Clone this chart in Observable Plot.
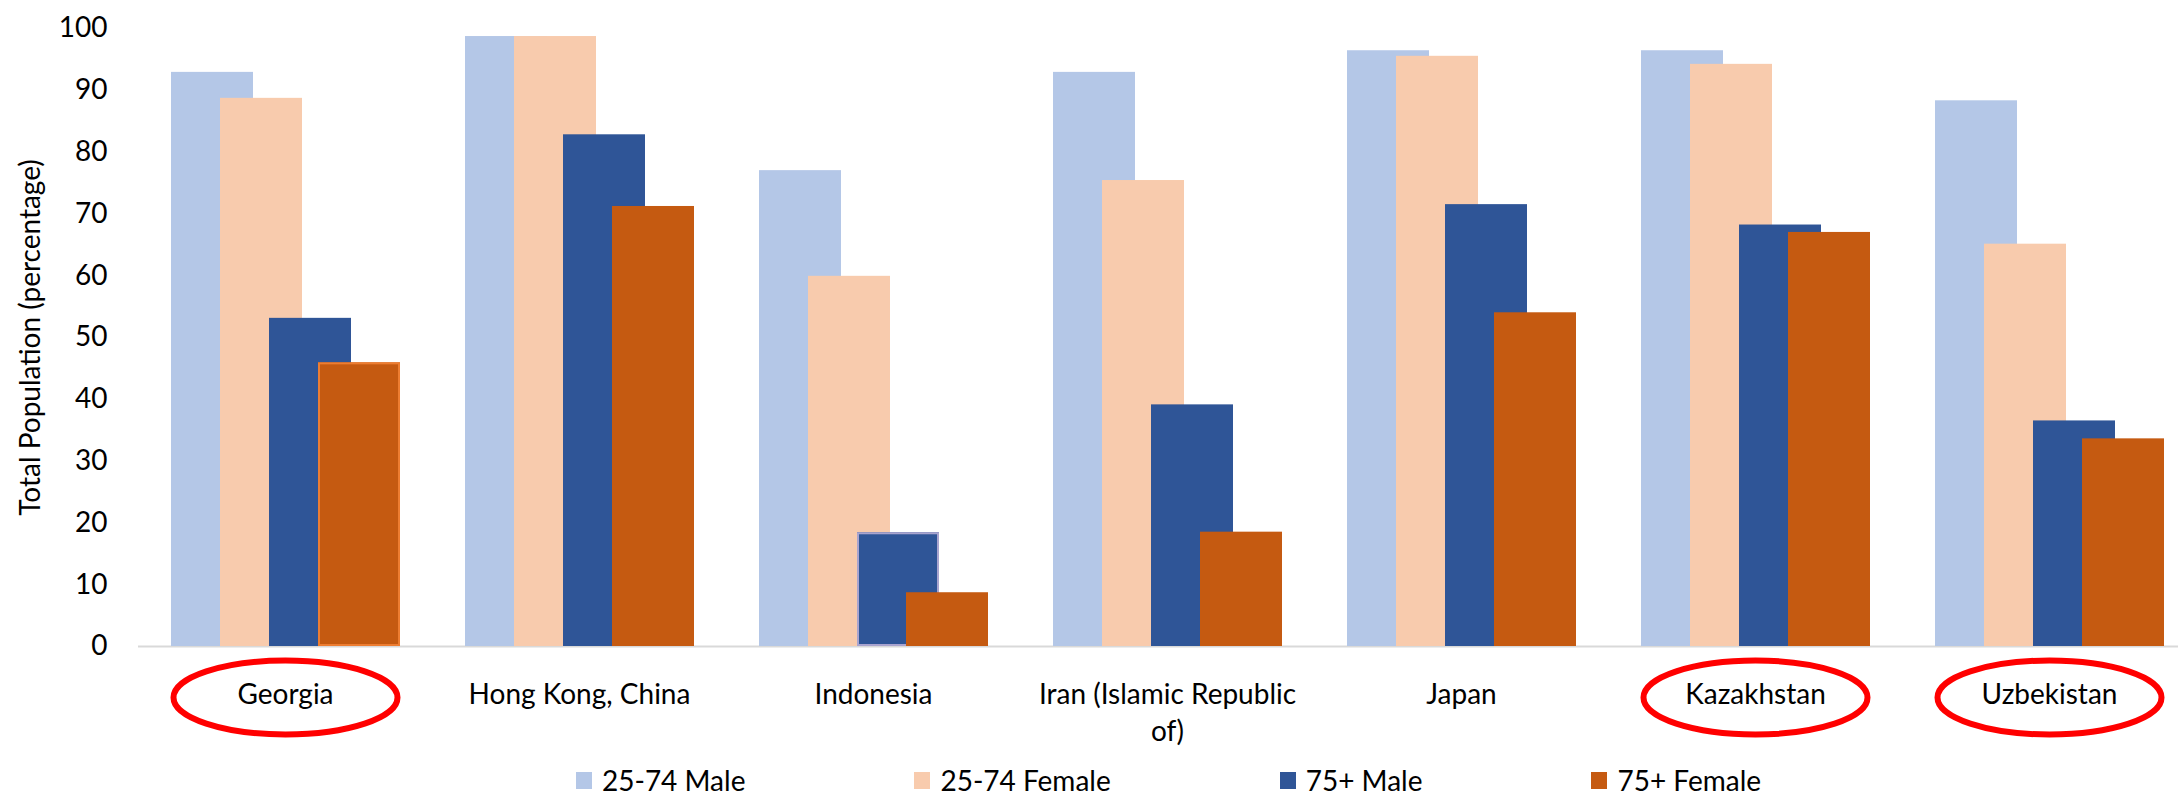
<!DOCTYPE html>
<html>
<head>
<meta charset="utf-8">
<script src="https://cdn.jsdelivr.net/npm/d3@7"></script>
<script src="https://cdn.jsdelivr.net/npm/@observablehq/plot@0.6"></script>
<style>
  html, body { margin: 0; padding: 0; background: #fff; overflow: hidden; }
  #chart svg { display: block; }
  .legend { display: flex; align-items: center; height: 24px; line-height: 24px; margin-top: 12px; padding-left: 576px; gap: 169px;
            font-family: Lato, sans-serif; font-size: 28px; color: #000; }
  .legend .item { display: flex; align-items: center; white-space: nowrap; height: 24px; }
  .legend .sw { width: 16px; height: 17px; margin-right: 10px; }
</style>
</head>
<body>
<div id="chart"></div>
<script>
// ---- data ----
const countries = ["Georgia", "Hong Kong, China", "Indonesia", "Iran (Islamic Republic of)", "Japan", "Kazakhstan", "Uzbekistan"];
const series = ["25-74 Male", "25-74 Female", "75+ Male", "75+ Female"];
const male2574   = [92.9, 98.7, 77.0, 92.9, 96.4, 96.4, 88.3];
const female2574 = [88.7, 98.7, 59.9, 75.4, 95.5, 94.2, 65.1];
const male75     = [53.1, 82.8, 18.4, 39.1, 71.5, 68.2, 36.5];
const female75   = [45.9, 71.2,  8.7, 18.5, 54.0, 67.0, 33.6];
const colors = ["#B4C7E7", "#F8CBAD", "#2F5597", "#C55A11"];
const highlighted = ["Georgia", "Kazakhstan", "Uzbekistan"];
const outlined = [
  {country: "Georgia", series: "75+ Female", stroke: "#ED7D31"},
  {country: "Indonesia", series: "75+ Male", stroke: "#A9A4CF"}
];
const tickLabels = {"Iran (Islamic Republic of)": "Iran (Islamic Republic\nof)"};
const yLabel = "Total Population (percentage)";

// ---- table ----
const valuesBySeries = [male2574, female2574, male75, female75];
const table = countries.flatMap((c, i) => series.map((s, j) => ({country: c, series: s, value: valuesBySeries[j][i]})));

// ellipse symbol for the red hand-drawn circles
const ellipse = {
  draw(context, size) {
    const rx = Math.sqrt(size / Math.PI), ry = rx * 0.33, k = 0.5523;
    context.moveTo(rx, 0);
    context.bezierCurveTo(rx, ry * k, rx * k, ry, 0, ry);
    context.bezierCurveTo(-rx * k, ry, -rx, ry * k, -rx, 0);
    context.bezierCurveTo(-rx, -ry * k, -rx * k, -ry, 0, -ry);
    context.bezierCurveTo(rx * k, -ry, rx, -ry * k, rx, 0);
    context.closePath();
  }
};

// bars drawn series by series so that later series overlap earlier ones
const barMarks = series.flatMap(s => [
  Plot.barY(table.filter(d => d.series === s), {fx: "country", x: "series", y: "value", fill: "series"}),
  ...outlined.filter(o => o.series === s).map(o =>
    Plot.barY(table.filter(d => d.country === o.country && d.series === o.series),
      {fx: "country", x: "series", y: "value", fill: "series", stroke: o.stroke, strokeWidth: 2, inset: 1}))
]);

const chart = Plot.plot({
  width: 2178,
  height: 756,
  marginLeft: 137,
  marginRight: 0,
  marginTop: 28,
  marginBottom: 110,
  style: {fontFamily: "Lato, sans-serif", fontSize: "28px", color: "#000", background: "#fff", overflow: "visible"},
  fx: {domain: countries, range: [137, 2197], padding: 0, label: null},
  x: {domain: series, paddingInner: -0.67, paddingOuter: 0.625, axis: null},
  y: {domain: [0, 100]},
  color: {domain: series, range: colors},
  marks: [
    Plot.ruleY([0], {stroke: "#D9D9D9", strokeWidth: 2}),
    ...barMarks,
    Plot.axisY({ticks: d3.range(0, 101, 10), tickSize: 0, tickPadding: 31, fontSize: 28,
      label: yLabel, labelAnchor: "center", labelArrow: "none", labelOffset: 118}),
    Plot.axisFx({anchor: "bottom", tickSize: 0, tickPadding: 32, fontSize: 28, lineHeight: 1.3,
      tickFormat: d => tickLabels[d] ?? d, label: null}),
    Plot.dot(highlighted, {fx: d => d, frameAnchor: "bottom", dy: 51, symbol: ellipse, r: 112,
      stroke: "#FF0000", strokeWidth: 6, fill: "none"})
  ]
});
document.getElementById("chart").append(chart);

// ---- legend ----
const legend = d3.select("body").append("div").attr("class", "legend");
series.forEach((s, i) => {
  const item = legend.append("div").attr("class", "item");
  item.append("div").attr("class", "sw").style("background", colors[i]);
  item.append("span").text(s);
});
</script>
</body>
</html>
